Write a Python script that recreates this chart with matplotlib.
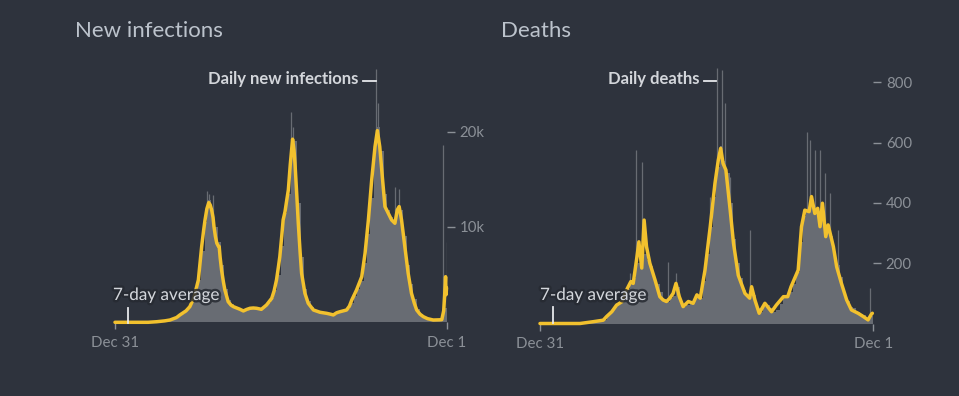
import matplotlib
matplotlib.use("Agg")
import matplotlib.pyplot as plt
import matplotlib.patheffects as pe

# размеры картинки в пикселях
W, H = 959, 396
BG = "#2e333d"
BAR = "#686c73"
YEL = "#f2c12e"
TXT = "#d3d6db"
TICK = "#8b9097"

# дни отсчитываются от Dec 31 (день 0) до Dec 1 (день 701)
week_days = list(range(0, 701, 7))

# новые случаи: недельные столбики (серый фон)
case_bars = [0, 0, 0, 0, 0, 0, 0, 0, 0, 0,
             10, 60, 80, 50, 100, 150, 200, 300, 380, 650,
             900, 1150, 1500, 2100, 3000, 4400, 7500, 10500, 12800, 12000,
             10000, 8400, 6000, 3500, 2300, 1900, 1600, 1450, 1300, 1200,
             1450, 1600, 1500, 1550, 1400, 1700, 2000, 2500, 3400, 5000,
             8000, 11500, 13500, 17500, 19000, 12500, 6800, 3500, 2200, 1600,
             1300, 1150, 1050, 1000, 950, 850, 800, 1000, 1150, 1250,
             1350, 2000, 2800, 3500, 4300, 6200, 9300, 13000, 17500, 20500,
             18000, 13500, 11800, 11000, 10500, 11800, 11800, 9000, 6000, 4000,
             2400, 1400, 900, 600, 420, 300, 250, 230, 260, 1500,
             3600]
# отдельные дни-выбросы
case_spike_days = [194, 198, 206, 372, 376, 551, 555, 592, 600, 693, 700]
case_spike_vals = [13800, 13400, 13350, 22000, 20500, 26600, 23000, 14200, 14000, 18600, 8400]
# 7-дневное среднее
case_avg_days = [0, 70, 88, 105, 116, 130, 137, 150, 158, 165,
                 169, 176, 183, 187, 190, 194, 198, 201, 204, 207,
                 209, 212, 215, 218, 220, 222, 225, 229, 232, 239,
                 245, 250, 257, 264, 271, 278, 285, 292, 299, 309,
                 320, 331, 336, 341, 345, 348, 352, 355, 359, 362,
                 366, 370, 375, 378, 380, 384, 387, 391, 394, 401,
                 408, 419, 433, 447, 455, 461, 468, 475, 489, 495,
                 500, 510, 521, 528, 535, 542, 549, 554, 559, 565,
                 570, 577, 584, 591, 596, 600, 605, 612, 619, 626,
                 632, 637, 644, 651, 660, 672, 685, 690, 694, 696,
                 698, 699, 700]
case_avg = [0, 0, 60, 150, 240, 500, 770, 1200, 1640, 2400,
            3040, 4440, 7940, 9600, 10700, 11900, 12550, 12300, 11790, 11000,
            10030, 9000, 8290, 8000, 7940, 6800, 5490, 4200, 3390, 2160,
            1800, 1640, 1500, 1360, 1190, 1350, 1470, 1500, 1470, 1360,
            1820, 2520, 3300, 4440, 5800, 6880, 9000, 10730, 11600, 12600,
            13880, 16500, 19200, 18000, 16680, 13180, 10380, 7240, 5140, 3040,
            1990, 1290, 1050, 940, 850, 770, 1000, 1110, 1290, 1700,
            2340, 3390, 4780, 7240, 10730, 14930, 18420, 20100, 18420, 14930,
            12130, 11430, 10730, 10380, 11780, 12130, 10730, 7930, 5140, 3040,
            2000, 1290, 850, 590, 380, 240, 260, 280, 1200, 2800,
            4780, 2900, 3600]

# смерти
death_bars = [0, 0, 0, 0, 0, 0, 0, 0, 0, 0,
              0, 0, 0, 1, 2, 4, 6, 8, 10, 12,
              25, 35, 55, 65, 75, 95, 115, 135, 150, 200,
              250, 230, 210, 190, 150, 130, 105, 80, 70, 85,
              90, 120, 75, 55, 60, 65, 75, 85, 85, 140,
              230, 320, 420, 520, 590, 540, 500, 400, 280, 200,
              150, 110, 90, 110, 95, 50, 38, 55, 60, 50,
              38, 45, 65, 85, 90, 105, 130, 170, 270, 355,
              370, 400, 380, 370, 350, 360, 320, 290, 230, 195,
              155, 105, 75, 55, 50, 38, 32, 28, 18, 25,
              35]
death_spike_days = [189, 202, 214, 270, 287, 358, 372, 382, 389, 400, 441, 561, 568, 578, 589, 599, 610, 627, 694]
death_spike_vals = [167, 575, 537, 205, 167, 420, 846, 841, 731, 487, 310, 636, 609, 575, 575, 498, 432, 310, 117]
death_avg_days = [0, 84, 112, 133, 140, 151, 161, 172, 182, 191,
                  196, 203, 208, 214, 219, 224, 231, 242, 252, 259,
                  266, 273, 280, 286, 293, 301, 312, 322, 330, 337,
                  347, 358, 368, 375, 380, 385, 391, 400, 407, 417,
                  431, 441, 445, 452, 461, 473, 487, 497, 512, 521,
                  528, 543, 550, 557, 566, 571, 578, 584, 589, 594,
                  601, 606, 617, 624, 634, 645, 655, 669, 680, 690,
                  697, 699]
death_avg = [0, 0, 6, 11, 23, 39, 61, 72, 111, 139,
             133, 211, 271, 184, 343, 255, 200, 144, 89, 78,
             73, 84, 100, 133, 89, 56, 73, 67, 95, 84,
             177, 321, 465, 542, 581, 531, 509, 376, 266, 160,
             100, 84, 122, 78, 34, 67, 39, 61, 89, 89,
             122, 177, 321, 376, 371, 421, 365, 382, 321, 399,
             288, 327, 255, 188, 133, 78, 45, 34, 23, 12,
             31, 34]

plt.rcParams["font.family"] = ["Lato", "DejaVu Sans"]

fig = plt.figure(figsize=(W / 100, H / 100), dpi=100, facecolor=BG)


def px_rect(x0, x1, ytop, ybot):
    return [x0 / W, 1 - ybot / H, (x1 - x0) / W, (ybot - ytop) / H]


def panel(rect, ymax, bars, spike_days, spike_vals, avg_days, avg, yticks, ylabels):
    ax = fig.add_axes(rect)
    ax.patch.set_alpha(0)
    ax.bar(week_days, bars, width=7, align="edge", color=BAR, linewidth=0)
    ax.vlines(spike_days, 0, spike_vals, color=BAR, lw=0.9)
    ax.plot(avg_days, avg, color=YEL, lw=2.5, solid_joinstyle="round",
            solid_capstyle="round", clip_on=False, zorder=3)
    ax.set_xlim(0, 701)
    ax.set_ylim(0, ymax)
    for s in ax.spines.values():
        s.set_visible(False)
    ax.set_xticks([0, 701])
    ax.set_xticklabels(["Dec 31", "Dec 1"])
    ax.yaxis.tick_right()
    ax.set_yticks(yticks)
    ax.set_yticklabels(ylabels)
    ax.tick_params(axis="x", colors=TICK, length=5, width=1, pad=5, labelsize=10.8)
    ax.tick_params(axis="y", colors=TICK, length=5.5, width=1, pad=3.5, labelsize=10.8)
    return ax


panel(px_rect(115, 447, 60, 322.3), 27500, case_bars, case_spike_days, case_spike_vals,
      case_avg_days, case_avg, [10000, 20000], ["10k", "20k"])
panel(px_rect(540, 873.3, 60, 323.5), 874, death_bars, death_spike_days, death_spike_vals,
      death_avg_days, death_avg, [200, 400, 600, 800], ["200", "400", "600", "800"])


def ftext(x, y, s, **kw):
    return fig.text(x / W, 1 - y / H, s, **kw)


def fline(x0, y0, x1, y1, **kw):
    fig.add_artist(plt.Line2D([x0 / W, x1 / W], [1 - y0 / H, 1 - y1 / H], **kw))


# заголовки
ftext(75, 37, "New infections", color="#bcc3cc", fontsize=16, va="baseline")
ftext(501, 37, "Deaths", color="#bcc3cc", fontsize=16, va="baseline")

# подписи серий
ftext(358, 84, "Daily new infections", color=TXT, fontsize=12, fontweight="bold",
      ha="right", va="baseline")
fline(362.5, 80.5, 375.5, 80.5, color="#e6e8eb", lw=1.3)
ftext(699, 84, "Daily deaths", color=TXT, fontsize=12, fontweight="bold",
      ha="right", va="baseline")
fline(703.5, 81, 716, 81, color="#e6e8eb", lw=1.3)

shadow = [pe.withStroke(linewidth=3.5, foreground="#262a32", alpha=0.85)]
ftext(113, 300, "7-day average", color=TXT, fontsize=12.3, va="baseline", path_effects=shadow)
fline(128.3, 308, 128.3, 322.5, color="#e6e8eb", lw=1.3)
ftext(540, 300, "7-day average", color=TXT, fontsize=12.3, va="baseline", path_effects=shadow)
fline(553.3, 307, 553.3, 323, color="#e6e8eb", lw=1.3)

fig.savefig("out.png", dpi=100, facecolor=BG)
